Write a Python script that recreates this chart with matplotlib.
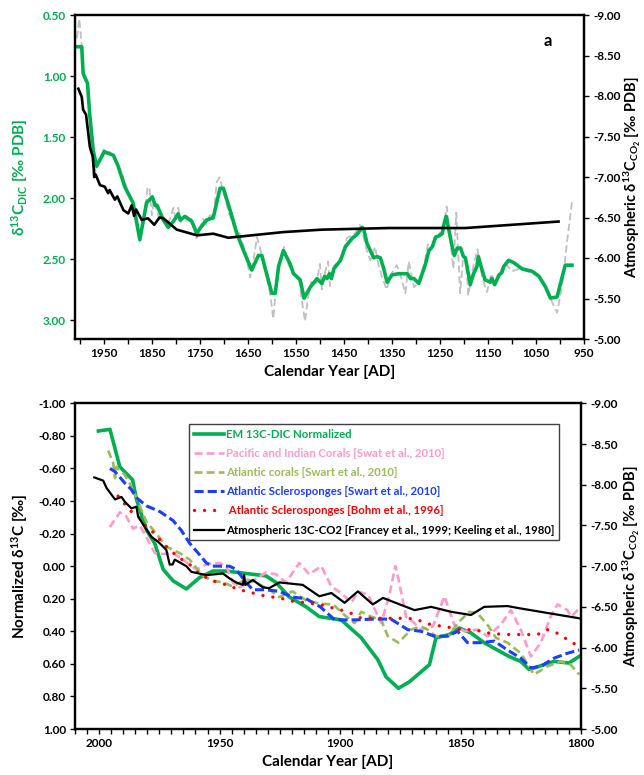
import matplotlib
matplotlib.use('Agg')
import matplotlib.pyplot as plt
from matplotlib.ticker import MultipleLocator, FuncFormatter, FormatStrFormatter

plt.rcParams['font.family'] = ['Lato', 'DejaVu Sans']
plt.rcParams['font.weight'] = 'bold'
plt.rcParams['mathtext.fontset'] = 'custom'
plt.rcParams['mathtext.default'] = 'regular'
plt.rcParams['mathtext.rm'] = 'Lato:bold'
plt.rcParams['mathtext.bf'] = 'Lato:bold'

# ---------------- Panel a data ----------------
em_years = [2008, 1996, 1993, 1984, 1979, 1972, 1965, 1949, 1930, 1920, 1906, 1889, 1875, 1861,
            1849, 1843, 1839, 1826, 1816, 1805, 1795, 1791, 1781, 1767, 1756, 1750, 1736, 1722,
            1708, 1701, 1687, 1673, 1659, 1642, 1628, 1621, 1611, 1600, 1593, 1586, 1576, 1562,
            1555, 1541, 1533, 1520, 1506, 1496, 1490, 1485, 1480, 1476, 1471, 1457, 1447, 1433,
            1423, 1412, 1409, 1402, 1395, 1388, 1381, 1374, 1367, 1360, 1350, 1336, 1318, 1311,
            1304, 1294, 1280, 1273, 1266, 1259, 1252, 1245, 1242, 1237, 1232, 1225, 1220, 1214,
            1207, 1201, 1197, 1190, 1187, 1180, 1173, 1170, 1163, 1156, 1145, 1142, 1136, 1127,
            1121, 1117, 1107, 1096, 1079, 1058, 1044, 1030, 1020, 1006, 999, 989, 975]
em_dic = [0.76, 0.76, 0.98, 1.06, 1.33, 1.61, 1.74, 1.62, 1.65, 1.74, 1.91, 2.04, 2.34, 2.04,
          1.99, 2.06, 2.06, 2.18, 2.24, 2.19, 2.13, 2.18, 2.15, 2.19, 2.29, 2.25, 2.18, 2.16,
          1.92, 1.92, 2.10, 2.29, 2.43, 2.59, 2.47, 2.47, 2.62, 2.78, 2.78, 2.56, 2.43, 2.54,
          2.62, 2.67, 2.82, 2.73, 2.66, 2.70, 2.64, 2.66, 2.62, 2.66, 2.58, 2.51, 2.40, 2.33,
          2.30, 2.24, 2.25, 2.37, 2.43, 2.49, 2.48, 2.49, 2.58, 2.69, 2.63, 2.62, 2.62, 2.66,
          2.66, 2.70, 2.54, 2.43, 2.40, 2.32, 2.31, 2.29, 2.22, 2.15, 2.25, 2.39, 2.47, 2.41,
          2.41, 2.48, 2.49, 2.64, 2.71, 2.62, 2.56, 2.48, 2.58, 2.67, 2.69, 2.66, 2.71, 2.63,
          2.61, 2.56, 2.51, 2.53, 2.58, 2.60, 2.64, 2.73, 2.82, 2.81, 2.70, 2.55, 2.55]

raw_years = [2006, 2001, 1998, 1995, 1993, 1990, 1984, 1979, 1972, 1970, 1967, 1960, 1950, 1945,
             1938, 1930, 1922, 1915, 1910, 1906, 1900, 1890, 1882, 1875, 1868, 1862, 1859, 1855,
             1850, 1846, 1842, 1833, 1826, 1819, 1812, 1805, 1800, 1795, 1790, 1782, 1775, 1768,
             1757, 1750, 1743, 1736, 1728, 1722, 1715, 1709, 1702, 1690, 1680, 1666, 1655, 1645,
             1638, 1631, 1622, 1612, 1603, 1597, 1592, 1585, 1575, 1565, 1555, 1545, 1531, 1524,
             1517, 1507, 1500, 1496, 1490, 1483, 1479, 1470, 1460, 1452, 1444, 1432, 1425, 1417,
             1410, 1403, 1395, 1385, 1378, 1371, 1361, 1352, 1340, 1333, 1322, 1315, 1304, 1296,
             1283, 1275, 1261, 1250, 1245, 1236, 1231, 1222, 1216, 1208, 1202, 1196, 1191, 1184,
             1172, 1162, 1152, 1143, 1135, 1127, 1115, 1100, 1085, 1069, 1055, 1040, 1025, 1006,
             995, 985, 975]
raw_dic = [0.69, 0.53, 0.66, 0.80, 0.98, 1.02, 1.08, 1.33, 1.76, 1.84, 1.74, 1.68, 1.60, 1.64,
           1.62, 1.66, 1.72, 1.83, 1.82, 1.87, 1.95, 2.02, 2.22, 2.36, 2.22, 2.02, 1.92, 1.91,
           2.14, 2.02, 2.07, 2.19, 2.18, 2.23, 2.17, 2.08, 2.19, 2.08, 2.20, 2.15, 2.20, 2.17,
           2.33, 2.25, 2.17, 2.22, 2.12, 2.18, 1.87, 1.83, 1.93, 2.12, 2.22, 2.30, 2.45, 2.65,
           2.50, 2.32, 2.45, 2.62, 2.80, 2.99, 2.75, 2.55, 2.40, 2.55, 2.62, 2.64, 3.01, 2.80,
           2.67, 2.70, 2.54, 2.75, 2.62, 2.52, 2.72, 2.55, 2.52, 2.45, 2.33, 2.30, 2.28, 2.22,
           2.30, 2.42, 2.51, 2.40, 2.55, 2.64, 2.75, 2.63, 2.55, 2.62, 2.78, 2.52, 2.73, 2.70,
           2.55, 2.38, 2.35, 2.28, 2.30, 2.07, 2.25, 2.58, 2.12, 2.78, 2.50, 2.48, 2.80, 2.62,
           2.42, 2.65, 2.77, 2.62, 2.70, 2.62, 2.53, 2.60, 2.58, 2.60, 2.62, 2.66, 2.78, 2.94,
           2.70, 2.35, 2.03]

atm_years_a = [2003, 1996, 1993, 1987, 1984, 1979, 1973, 1971, 1970, 1967, 1958, 1948, 1941, 1938,
               1927, 1922, 1909, 1899, 1892, 1887, 1883, 1871, 1858, 1845, 1834, 1826, 1798, 1756,
               1722, 1691, 1576, 1496, 1357, 1197, 1003]
atm_co2_a = [-8.09, -7.99, -7.83, -7.77, -7.62, -7.37, -7.25, -7.10, -7.00, -7.03, -6.90, -6.88,
             -6.80, -6.84, -6.72, -6.76, -6.59, -6.55, -6.65, -6.52, -6.60, -6.47, -6.49, -6.41,
             -6.50, -6.49, -6.35, -6.28, -6.30, -6.25, -6.32, -6.35, -6.37, -6.37, -6.45]

# ---------------- Panel b data ----------------
em_n_years = [2000.3, 1995.5, 1991.4, 1986.1, 1984.5, 1980.3, 1976.9, 1973.4, 1969.3, 1963.8, 1958.3,
              1952.8, 1947.2, 1941.7, 1936.2, 1930.7, 1926.6, 1921.0, 1914.1, 1908.6, 1899.5, 1891.2,
              1884.3, 1880.9, 1875.8, 1871.2, 1862.9, 1860.2, 1854.7, 1850.5, 1845.7, 1840.2, 1835.3,
              1829.8, 1825.0, 1821.5, 1817.4, 1811.2, 1805.0, 1800.8]
em_n = [-0.83, -0.84, -0.61, -0.53, -0.41, -0.22, -0.14, 0.02, 0.09, 0.14, 0.07, 0.03, 0.03, 0.04,
        0.05, 0.06, 0.10, 0.19, 0.25, 0.31, 0.33, 0.44, 0.575, 0.68, 0.75, 0.71, 0.605, 0.44, 0.42,
        0.38, 0.41, 0.47, 0.51, 0.555, 0.585, 0.635, 0.615, 0.585, 0.595, 0.555]

pac_years = [1995.5, 1991.4, 1989.3, 1985.9, 1983.1, 1979.7, 1976.9, 1973.4, 1969.3, 1965.2, 1959.7,
             1955.5, 1950.0, 1947.2, 1944.5, 1941.7, 1936.2, 1930.7, 1926.6, 1922.4, 1919.7, 1916.9,
             1912.8, 1907.8, 1903.6, 1899.5, 1895.3, 1892.6, 1888.4, 1882.9, 1879.5, 1877.1, 1875.8,
             1872.6, 1869.1, 1866.4, 1861.5, 1856.7, 1852.6, 1848.4, 1842.9, 1838.8, 1833.3, 1829.1,
             1825.0, 1820.8, 1816.7, 1812.6, 1809.8, 1805.7, 1804.0, 1800.8]
pac_corals = [-0.24, -0.33, -0.32, -0.23, -0.25, -0.16, -0.08, -0.075, -0.08, -0.04, 0.02, -0.01,
              -0.02, 0.0, 0.10, 0.13, 0.09, 0.04, 0.05, 0.10, 0.04, -0.02, 0.05, 0.0, 0.125, 0.165,
              0.225, 0.155, 0.175, 0.35, 0.175, 0.0, 0.075, 0.31, 0.35, 0.39, 0.37, 0.185, 0.36,
              0.40, 0.39, 0.43, 0.36, 0.27, 0.39, 0.555, 0.47, 0.31, 0.235, 0.27, 0.31, 0.26]

atl_c_years = [1996.2, 1994.1, 1993.4, 1992.8, 1989.3, 1986.6, 1983.1, 1980.3, 1976.2, 1972.1, 1966.6,
               1962.4, 1956.9, 1952.8, 1948.6, 1944.5, 1939.0, 1934.8, 1929.3, 1925.2, 1919.7, 1914.1,
               1908.6, 1902.9, 1897.4, 1894.0, 1891.2, 1887.1, 1882.9, 1880.2, 1875.8, 1870.5, 1866.4,
               1863.6, 1860.2, 1855.0, 1851.2, 1846.4, 1842.9, 1838.8, 1835.3, 1830.5, 1825.0, 1819.5,
               1813.9, 1808.4, 1804.3, 1800.8]
atl_corals = [-0.71, -0.63, -0.54, -0.61, -0.56, -0.49, -0.37, -0.27, -0.20, -0.12, -0.08, -0.04,
              0.06, 0.09, 0.10, 0.125, 0.08, 0.10, 0.145, 0.19, 0.155, 0.21, 0.23, 0.235, 0.31, 0.35,
              0.28, 0.31, 0.33, 0.43, 0.47, 0.39, 0.37, 0.39, 0.43, 0.43, 0.35, 0.28, 0.29, 0.36,
              0.44, 0.47, 0.535, 0.665, 0.615, 0.585, 0.605, 0.665]

atl_s_years = [1995.5, 1993.4, 1989.3, 1986.6, 1984.5, 1980.3, 1974.8, 1969.3, 1965.9, 1962.4, 1958.3,
               1955.5, 1952.8, 1945.9, 1943.1, 1939.0, 1936.2, 1930.7, 1925.2, 1919.7, 1914.1, 1908.2,
               1902.2, 1894.0, 1885.7, 1878.9, 1871.9, 1866.4, 1860.9, 1855.4, 1851.2, 1847.1, 1841.6,
               1836.0, 1830.5, 1825.0, 1820.8, 1816.7, 1811.2, 1805.7, 1800.8]
atl_sponges = [-0.60, -0.58, -0.51, -0.47, -0.42, -0.37, -0.335, -0.28, -0.22, -0.14, -0.07, -0.02,
               0.0, 0.0, 0.02, 0.10, 0.145, 0.145, 0.155, 0.19, 0.20, 0.25, 0.33, 0.33, 0.325, 0.325,
               0.39, 0.40, 0.43, 0.43, 0.40, 0.47, 0.47, 0.46, 0.515, 0.565, 0.625, 0.615, 0.565,
               0.535, 0.515]

bohm_years = [1992.1, 1989.3, 1986.6, 1983.8, 1980.3, 1976.9, 1974.1, 1970.7, 1966.6, 1962.4, 1958.3,
              1952.8, 1947.2, 1941.7, 1936.2, 1930.7, 1925.2, 1919.7, 1914.1, 1908.6, 1902.2, 1896.7,
              1891.2, 1880.2, 1871.9, 1867.8, 1862.2, 1856.7, 1849.8, 1844.3, 1838.8, 1831.9, 1825.0,
              1818.1, 1814.0, 1811.2, 1805.7, 1800.8]
bohm_sponges = [-0.43, -0.38, -0.335, -0.305, -0.24, -0.20, -0.15, -0.10, -0.05, -0.01, 0.05, 0.09,
                0.115, 0.145, 0.165, 0.185, 0.195, 0.215, 0.225, 0.235, 0.26, 0.28, 0.32, 0.32, 0.32,
                0.33, 0.36, 0.37, 0.39, 0.39, 0.41, 0.42, 0.42, 0.42, 0.39, 0.40, 0.45, 0.495]

atm_years_b = [2002.0, 1998.3, 1996.9, 1993.4, 1990.7, 1989.3, 1986.6, 1984.5, 1983.8, 1981.7, 1978.3,
               1975.5, 1972.1, 1970.7, 1969.5, 1968.6, 1963.8, 1961.7, 1955.5, 1948.6, 1945.9, 1943.1,
               1940.3, 1939.8, 1939.3, 1936.2, 1932.1, 1929.4, 1925.2, 1915.5, 1908.6, 1903.6, 1898.1,
               1892.6, 1886.4, 1882.2, 1869.1, 1862.2, 1854.0, 1845.7, 1840.2, 1830.5, 1825.0, 1800.8]
atm_co2_b = [-8.09, -8.05, -7.96, -7.82, -7.85, -7.79, -7.71, -7.73, -7.61, -7.51, -7.36, -7.30,
             -7.20, -7.02, -7.02, -7.08, -7.00, -6.93, -6.89, -6.91, -6.85, -6.80, -6.77, -6.89,
             -6.77, -6.83, -6.74, -6.73, -6.80, -6.77, -6.63, -6.67, -6.55, -6.69, -6.53, -6.61,
             -6.46, -6.50, -6.44, -6.40, -6.50, -6.51, -6.48, -6.36]

GREEN = '#00B050'
PINK = '#FF99CC'
OLIVE = '#9BBB59'
BLUE = '#1A3DFF'
RED = '#FF0000'
GRAY = '#C0C0C0'

fig = plt.figure(figsize=(6.44, 7.75), dpi=100)

def style_axes(ax, axr):
    for a in (ax, axr):
        for s in a.spines.values():
            s.set_linewidth(1.6)
            s.set_color('black')
    ax.tick_params(axis='both', direction='out', length=3.5, width=1.0, labelsize=8.5, pad=3)
    axr.tick_params(axis='y', direction='out', length=3.5, width=1.0, labelsize=8.5, pad=3)
    ax.yaxis.set_major_formatter(FormatStrFormatter('%.2f'))
    axr.yaxis.set_major_formatter(FormatStrFormatter('%.2f'))
    axr.yaxis.set_major_locator(MultipleLocator(0.5))

# ---------------- Panel a ----------------
ax1 = fig.add_axes([75 / 644, 1 - 339 / 775, 509 / 644, 324 / 775])
ax1.set_xlim(2010, 950)
ax1.set_ylim(3.155, 0.5)
ax1r = ax1.twinx()
ax1r.set_ylim(-5, -9)
style_axes(ax1, ax1r)
ax1.yaxis.set_major_locator(MultipleLocator(0.5))
ax1.xaxis.set_major_locator(MultipleLocator(50))
ax1.xaxis.set_major_formatter(FuncFormatter(
    lambda v, p: '%d' % round(v) if (int(round(v)) - 50) % 100 == 0 else ''))
ax1.tick_params(axis='y', labelcolor=GREEN)

ax1.plot(raw_years, raw_dic, color=GRAY, lw=1.3, dashes=(4, 2))
ax1.plot(em_years, em_dic, color=GREEN, lw=2.6)
ax1r.plot(atm_years_a, atm_co2_a, color='black', lw=1.9)

ax1.set_xlabel('Calendar Year [AD]', fontsize=11, fontweight='bold')
ax1.set_ylabel(r'δ$^{13}$C$_{DIC}$ [‰ PDB]', color=GREEN, fontsize=11, fontweight='bold')
ax1r.set_ylabel(r'Atmospheric δ$^{13}$C$_{CO_2}$ [‰ PDB]', fontsize=10.5, fontweight='bold')
ax1.yaxis.set_label_coords(-0.088, 0.5)
ax1r.yaxis.set_label_coords(1.073, 0.5)
ax1.text(0.929, 0.920, 'a', transform=ax1.transAxes, fontsize=12, fontweight='bold',
         ha='center', va='center')

# ---------------- Panel b ----------------
ax2 = fig.add_axes([75 / 644, 1 - 729 / 775, 506 / 644, 325.7 / 775])
ax2.set_xlim(2010, 1800)
ax2.set_ylim(1, -1)
ax2r = ax2.twinx()
ax2r.set_ylim(-5, -9)
style_axes(ax2, ax2r)
ax2.yaxis.set_major_locator(MultipleLocator(0.2))
ax2.xaxis.set_major_locator(MultipleLocator(5))
ax2.xaxis.set_major_formatter(FuncFormatter(
    lambda v, p: '%d' % round(v) if int(round(v)) % 50 == 0 else ''))

l1, = ax2.plot(em_n_years, em_n, color=GREEN, lw=2.6, label='EM 13C-DIC Normalized')
l2, = ax2.plot(pac_years, pac_corals, color=PINK, lw=1.9, dashes=(3, 1.6),
               label='Pacific and Indian Corals [Swat et al., 2010]')
l3, = ax2.plot(atl_c_years, atl_corals, color=OLIVE, lw=1.9, dashes=(3, 1.6),
               label='Atlantic corals [Swart et al., 2010]')
l4, = ax2.plot(atl_s_years, atl_sponges, color=BLUE, lw=2.2, dashes=(3, 1.3),
               label='Atlantic Sclerosponges [Swart et al., 2010]')
l5, = ax2.plot(bohm_years, bohm_sponges, color=RED, lw=2.4, linestyle=(0, (0.01, 3.0)),
               dash_capstyle='round', label=' Atlantic Sclerosponges [Bohm et al., 1996]')
l6, = ax2r.plot(atm_years_b, atm_co2_b, color='black', lw=1.6,
                label='Atmospheric 13C-CO2 [Francey et al., 1999; Keeling et al., 1980]')

leg = ax2r.legend(handles=[l1, l2, l3, l4, l5, l6], loc='upper left',
                  bbox_to_anchor=(0.225, 0.937), fontsize=8.2, frameon=True, fancybox=False,
                  edgecolor='#404040', framealpha=1, handlelength=2.65, handletextpad=0.2,
                  labelspacing=0.72, borderpad=0.42, labelcolor='linecolor', borderaxespad=0)
leg.get_frame().set_linewidth(1.0)
for t in leg.get_texts():
    t.set_fontweight('bold')

ax2.set_xlabel('Calendar Year [AD]', fontsize=11, fontweight='bold')
ax2.set_ylabel(r'Normalized δ$^{13}$C [‰]', fontsize=11, fontweight='bold')
ax2r.set_ylabel(r'Atmospheric δ$^{13}$C$_{CO_2}$ [‰ PDB]', fontsize=10.5, fontweight='bold')
ax2.yaxis.set_label_coords(-0.089, 0.5)
ax2r.yaxis.set_label_coords(1.079, 0.5)
ax2.text(0.917, 0.872, 'b', transform=ax2.transAxes, fontsize=12, fontweight='bold',
         ha='center', va='center')

fig.savefig('out.png', dpi=100)
